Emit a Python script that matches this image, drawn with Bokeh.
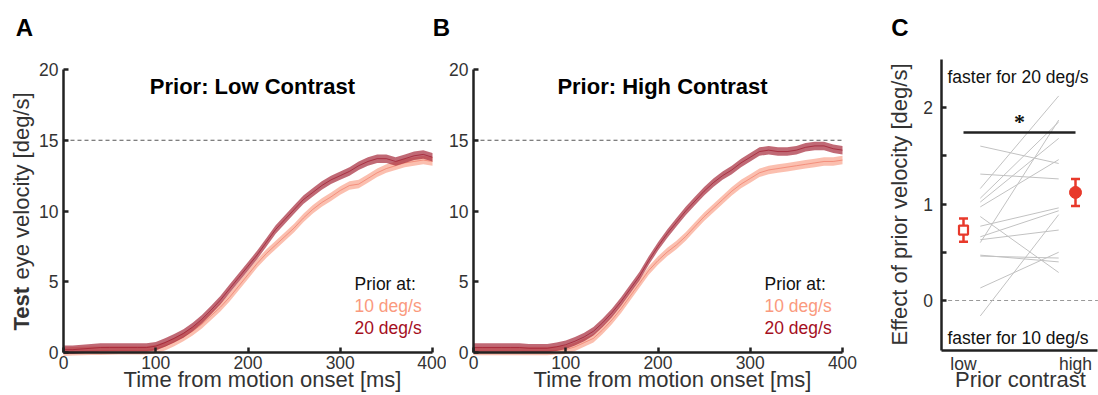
import json
from math import pi
from bokeh.plotting import figure
from bokeh.layouts import row, column
from bokeh.models import Label, FixedTicker, CustomJSTickFormatter
from bokeh.embed import file_html
from bokeh.resources import INLINE

FONT = "Liberation Sans"

# ---------------- data ----------------
time_ms = list(range(0, 401, 10))
# Panel A: prior at low contrast
lowc_10 = [0.05, 0.08, 0.1, 0.12, 0.13, 0.14, 0.15, 0.15, 0.15, 0.15, 0.25, 0.45, 0.75, 1.1, 1.5,
           2.0, 2.6, 3.2, 3.9, 4.7, 5.5, 6.3, 7.0, 7.6, 8.2, 8.8, 9.5, 10.1, 10.6, 11.0,
           11.45, 11.8, 11.9, 12.3, 12.7, 13.0, 13.2, 13.4, 13.5, 13.6, 13.5]
lowc_20 = [0.2, 0.2, 0.25, 0.3, 0.35, 0.35, 0.35, 0.35, 0.35, 0.35, 0.45, 0.7, 1.0, 1.35, 1.8,
           2.35, 3.0, 3.7, 4.5, 5.3, 6.1, 6.9, 7.8, 8.7, 9.4, 10.1, 10.8, 11.3, 11.8, 12.2,
           12.5, 12.8, 13.2, 13.5, 13.7, 13.7, 13.5, 13.7, 13.9, 14.0, 13.8]
# Panel B: prior at high contrast
highc_10 = [0.1, 0.1, 0.1, 0.1, 0.1, 0.1, 0.1, 0.1, 0.1, 0.15, 0.2, 0.4, 0.7, 1.0, 1.6,
            2.3, 3.1, 4.0, 4.9, 5.8, 6.5, 7.1, 7.6, 8.2, 8.9, 9.6, 10.2, 10.8, 11.4, 11.9,
            12.3, 12.7, 12.9, 13.0, 13.1, 13.2, 13.3, 13.4, 13.5, 13.5, 13.6]
highc_20 = [0.35, 0.35, 0.35, 0.35, 0.35, 0.35, 0.3, 0.3, 0.3, 0.4, 0.55, 0.8, 1.1, 1.5, 2.1,
            2.8, 3.6, 4.5, 5.4, 6.5, 7.5, 8.4, 9.2, 10.0, 10.7, 11.4, 12.0, 12.5, 12.9, 13.4,
            13.8, 14.2, 14.3, 14.2, 14.2, 14.3, 14.5, 14.6, 14.6, 14.4, 14.3]
band_se = 0.3
test_speed = 15

x_ticks_ms = [0, 100, 200, 300, 400]
y_ticks_speed = [0, 5, 10, 15, 20]

# Panel C
contrast_cats = ["low", "high"]
subj_low = [1.60, 1.31, 1.16, 1.06, 1.02, 0.97, 0.87, 0.77, 0.66, 0.63, 0.60, 0.47, 0.46, 0.13, -0.16]
subj_high = [1.42, 1.26, 2.12, 1.85, 1.68, 1.46, 0.29, 0.96, 0.93, 0.73, 1.87, 0.40, 0.44, 0.50, 0.89]
effect_mean = [0.73, 1.12]
effect_sem = [0.12, 0.14]
sig_level = 1.74
c_ticks = [0, 0.5, 1, 1.5, 2]
c_axis_y = (-0.52, 2.5)
c_axis_x = (0.8, 2.2)

panel_letters = ["A", "B", "C"]

# ---------------- colours ----------------
C10_BAND, C10_LINE, C10_TEXT = "#f8977e", "#f07a66", "#fa9a7e"
C20_BAND, C20_LINE, C20_TEXT = "#a52a3a", "#9e1a2e", "#a50f1e"
RED = "#e8392b"
AX = "#222222"
TXT = "#333333"

W, H = 1098, 395
STRIP = 45  # height of the strip holding the panel letters


class PageMap:
    """Linear map between page pixels and a panel's data coordinates."""
    def __init__(self, px_a, x_a, px_b, x_b, py_a, y_a, py_b, y_b):
        self.sx = (x_b - x_a) / (px_b - px_a)
        self.ox = x_a - px_a * self.sx
        self.sy = (y_b - y_a) / (py_b - py_a)
        self.oy = y_a - py_a * self.sy

    def x(self, px):
        return self.ox + px * self.sx

    def y(self, py):
        return self.oy + py * self.sy


def bare_fig(w, h, xr, yr):
    p = figure(frame_width=w, frame_height=h, x_range=xr, y_range=yr,
               min_border=0, min_border_left=0, min_border_right=0,
               min_border_top=0, min_border_bottom=0,
               output_backend="svg", toolbar_location=None)
    p.outline_line_color = None
    p.xgrid.visible = False
    p.ygrid.visible = False
    return p


def make_fig(m, left, right):
    p = bare_fig(right - left, H - STRIP, (m.x(left), m.x(right)), (m.y(H), m.y(STRIP)))
    for ax in (p.xaxis[0], p.yaxis[0]):
        ax.axis_line_width = 2.5
        ax.axis_line_color = AX
        ax.major_tick_line_color = AX
        ax.major_tick_line_width = 2.5
        ax.major_tick_in = 5
        ax.major_tick_out = 0
        ax.minor_tick_line_color = None
        ax.major_label_text_font = FONT
        ax.major_label_text_font_size = "17.5px"
        ax.major_label_text_color = TXT
    p.xaxis.major_label_standoff = 3
    p.yaxis.major_label_standoff = 5
    return p


def label(p, x, y, text, size, color="#000000", bold=False, align="left",
          baseline="alphabetic", angle=0):
    p.add_layout(Label(x=x, y=y, text=text, text_font=FONT, text_font_size=size,
                       text_color=color, text_font_style="bold" if bold else "normal",
                       text_align=align, text_baseline=baseline, angle=angle))


Y0_PX, Y20_PX = 352, 69
XLAB_Y = 379


def speed_panel(title, d10, d20, left_px, fig_left, fig_right, ylab):
    right_px = left_px + 369
    m = PageMap(left_px, x_ticks_ms[0], right_px, x_ticks_ms[-1],
                Y0_PX, y_ticks_speed[0], Y20_PX, y_ticks_speed[-1])
    p = make_fig(m, fig_left, fig_right)
    p.xaxis.ticker = FixedTicker(ticks=x_ticks_ms)
    p.yaxis.ticker = FixedTicker(ticks=y_ticks_speed)
    p.xaxis.fixed_location = y_ticks_speed[0]
    p.yaxis.fixed_location = x_ticks_ms[0]
    p.xaxis.bounds = (x_ticks_ms[0], x_ticks_ms[-1])
    p.yaxis.bounds = (y_ticks_speed[0], y_ticks_speed[-1])

    p.segment(x0=[x_ticks_ms[0]], y0=[test_speed], x1=[x_ticks_ms[-1]], y1=[test_speed],
              line_color="#555555", line_width=1, line_dash="4 3")
    for d, band, line, alpha in ((d10, C10_BAND, C10_LINE, 0.62), (d20, C20_BAND, C20_LINE, 0.7)):
        lo = [v - band_se for v in d]
        hi = [v + band_se for v in d]
        p.varea(x=time_ms, y1=lo, y2=hi, fill_color=band, fill_alpha=alpha)
        p.line(time_ms, d, line_color=line, line_width=1, line_alpha=0.7)

    label(p, m.x(left_px + 189), m.y(86), title, "22px", bold=True, align="center", baseline="middle")
    lx = m.x(right_px - 78)
    label(p, lx, m.y(283), "Prior at:", "17.5px", color="#111111")
    label(p, lx, m.y(305), "10 deg/s", "17.5px", color=C10_TEXT)
    label(p, lx, m.y(327), "20 deg/s", "17.5px", color=C20_TEXT)
    label(p, m.x(left_px + 199), m.y(XLAB_Y), "Time from motion onset [ms]", "22px", color=TXT,
          align="center", baseline="middle")
    if ylab:
        y0 = 330
        label(p, m.x(21), m.y(y0), "Test", "22px", color=TXT, bold=True, align="left",
              baseline="middle", angle=pi / 2)
        label(p, m.x(21), m.y(y0 - 51), "eye velocity [deg/s]", "22px", color=TXT, align="left",
              baseline="middle", angle=pi / 2)
    return p


pA = speed_panel("Prior: Low Contrast", lowc_10, lowc_20, 63, 0, 446, True)
pB = speed_panel("Prior: High Contrast", highc_10, highc_20, 473, 446, 870, False)

# ---------------- panel C ----------------
cat_pos = [i + 1 for i in range(len(contrast_cats))]
mc = PageMap(963, cat_pos[0], 1075, cat_pos[1], 300, 0.0, 107, 2.0)
pC = make_fig(mc, 870, W)
pC.yaxis.ticker = FixedTicker(ticks=c_ticks)
pC.yaxis.formatter = CustomJSTickFormatter(
    code="return (Math.abs(tick % 1) < 1e-9) ? tick.toFixed(0) : '';")
pC.xaxis.ticker = FixedTicker(ticks=cat_pos)
pC.xaxis.formatter = CustomJSTickFormatter(
    code="const c = %s; return c[Math.round(tick) - 1];" % json.dumps(contrast_cats))
pC.xaxis.major_tick_in = 0
pC.xaxis.major_label_standoff = 3
pC.yaxis.major_label_standoff = 8
pC.xaxis.fixed_location = c_axis_y[0]
pC.yaxis.fixed_location = c_axis_x[0]
pC.xaxis.bounds = c_axis_x
pC.yaxis.bounds = c_axis_y

pC.segment(x0=[c_axis_x[0]], y0=[0], x1=[c_axis_x[1]], y1=[0],
           line_color="#999999", line_width=1.2, line_dash="4 3")
inset = 0.15
pC.segment(x0=[cat_pos[0] + inset] * len(subj_low), y0=subj_low,
           x1=[cat_pos[1] - inset] * len(subj_high), y1=subj_high,
           line_color="#c2c2c2", line_width=1)
pC.line(cat_pos, [sig_level, sig_level], line_color="#222222", line_width=2.5)
pC.text(x=[sum(cat_pos) / 2], y=[sig_level + 0.12], text=["*"], text_font="Liberation Sans",
        text_font_size="22px", text_font_style="bold", text_align="center",
        text_baseline="middle", text_color="#111111")
lo_err = [mv - s for mv, s in zip(effect_mean, effect_sem)]
hi_err = [mv + s for mv, s in zip(effect_mean, effect_sem)]
pC.segment(x0=cat_pos, y0=lo_err, x1=cat_pos, y1=hi_err, line_color=RED, line_width=2.5)
pC.scatter(x=cat_pos + cat_pos, y=lo_err + hi_err, marker="dash", size=9,
           line_color=RED, line_width=2.5)
pC.scatter(x=[cat_pos[0]], y=[effect_mean[0]], marker="square", size=9, fill_color="white",
           line_color=RED, line_width=2.2)
pC.scatter(x=[cat_pos[1]], y=[effect_mean[1]], marker="circle", size=12, fill_color=RED,
           line_color=RED)

label(pC, mc.x(947), mc.y(76), "faster for 20 deg/s", "17.5px", color="#111111")
label(pC, mc.x(947), mc.y(337), "faster for 10 deg/s", "17.5px", color="#111111")
label(pC, mc.x(899), mc.y(204), "Effect of prior velocity [deg/s]", "22px", color=TXT,
      align="center", baseline="middle", angle=pi / 2)
label(pC, mc.x(1020), mc.y(XLAB_Y), "Prior contrast", "22px", color=TXT, align="center",
      baseline="middle")

# ---------------- letter strip ----------------
strip = bare_fig(W, STRIP, (0, W), (STRIP, 0))
strip.xaxis.visible = False
strip.yaxis.visible = False
for letter, lx in zip(panel_letters, (24, 441, 899.5)):
    label(strip, lx, 27, letter, "24px", bold=True, align="center", baseline="middle")

layout = column(strip, row(pA, pB, pC))
open("out.html", "w").write(file_html(layout, INLINE))
